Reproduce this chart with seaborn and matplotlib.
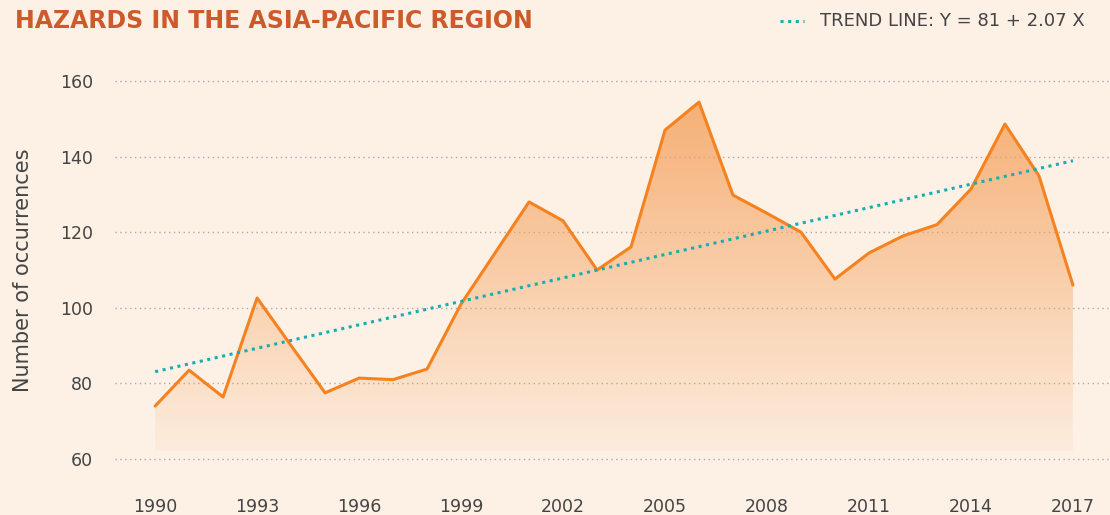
import matplotlib.pyplot as plt
import matplotlib as mpl
import numpy as np
import pandas as pd
import seaborn as sns
from matplotlib.colors import LinearSegmentedColormap

years = list(range(1990, 2018))
occurrences = [74.0, 83.5, 76.4, 102.6, 90.0, 77.5, 81.4, 81.0, 83.8, 101.0,
               114.5, 128.0, 123.0, 110.0, 116.1, 147.0, 154.4, 129.8, 125.0, 120.0,
               107.6, 114.5, 119.0, 122.0, 131.4, 148.6, 134.9, 106.0]
trend_years = [1990, 2017]
trend_values = [83.1, 138.9]
y_ticks = [60, 80, 100, 120, 140, 160]
x_ticks = [1990, 1993, 1996, 1999, 2002, 2005, 2008, 2011, 2014, 2017]

BG = '#FDF0E4'
ORANGE = '#F5821F'
TEAL = '#17ADB5'
TITLE_C = '#CD5A2B'
TEXT_C = '#444444'

sns.set_theme(style="white")
mpl.rcParams.update({
    'font.family': ['DejaVu Sans'],
    'figure.facecolor': BG,
    'axes.facecolor': BG,
    'savefig.facecolor': BG,
})

df = pd.DataFrame({'Year': years, 'Occurrences': occurrences})
trend = pd.DataFrame({'Year': trend_years, 'Trend': trend_values})

fig = plt.figure(figsize=(11.1, 5.15), dpi=100)
ax = fig.add_axes([0.1036, 0.0874, 0.8964, 0.7767])

ymin, ymax = 57.1, 162.9

# gradient area under the line
base = 62.0
poly = ax.fill_between(df['Year'], df['Occurrences'], base, color='none', lw=0)
cmap = LinearSegmentedColormap.from_list(
    'fade', [(0.96, 0.63, 0.36, 0.05), (0.96, 0.63, 0.36, 0.82)])
grad = np.linspace(0, 1, 256).reshape(-1, 1)
img = ax.imshow(grad, cmap=cmap, origin='lower', aspect='auto',
                extent=[1990, 2017, base, 156], zorder=1)
img.set_clip_path(poly.get_paths()[0], transform=ax.transData)

sns.lineplot(data=df, x='Year', y='Occurrences', color=ORANGE,
             linewidth=2.2, ax=ax, zorder=3)
sns.lineplot(data=trend, x='Year', y='Trend', color=TEAL, linewidth=2.2,
             linestyle=(0, (1, 1.5)), ax=ax, zorder=4)

ax.set_xlim(1988.82, 2018.09)
ax.set_ylim(ymin, ymax)
ax.set_yticks(y_ticks)
ax.set_xticks(x_ticks)
ax.set_xticklabels([str(x) for x in x_ticks])
ax.yaxis.grid(True, linestyle=(0, (1, 2.5)), linewidth=1.0, color='#ADA9A5')
ax.xaxis.grid(False)
ax.set_axisbelow(True)
ax.tick_params(axis='y', length=0, pad=16, labelsize=12.5, labelcolor=TEXT_C)
ax.tick_params(axis='x', length=0, pad=20, labelsize=12.5, labelcolor=TEXT_C)
ax.set_xlabel('')
ax.set_ylabel('Number of occurrences', fontsize=15, color=TEXT_C)
ax.yaxis.set_label_coords(-0.082, 0.5)
sns.despine(left=True, bottom=True)

fig.text(0.0135, 0.96, 'HAZARDS IN THE ASIA-PACIFIC REGION', fontsize=17,
         fontweight='bold', color=TITLE_C, va='center', ha='left')
fig.lines.append(plt.Line2D([0.703, 0.724], [0.96, 0.96], transform=fig.transFigure,
                            color=TEAL, linewidth=2.2, linestyle=(0, (1, 1.5))))
fig.text(0.739, 0.96, 'TREND LINE: Y = 81 + 2.07 X', fontsize=13,
         color=TEXT_C, va='center', ha='left')

plt.savefig('out.png', dpi=100)
